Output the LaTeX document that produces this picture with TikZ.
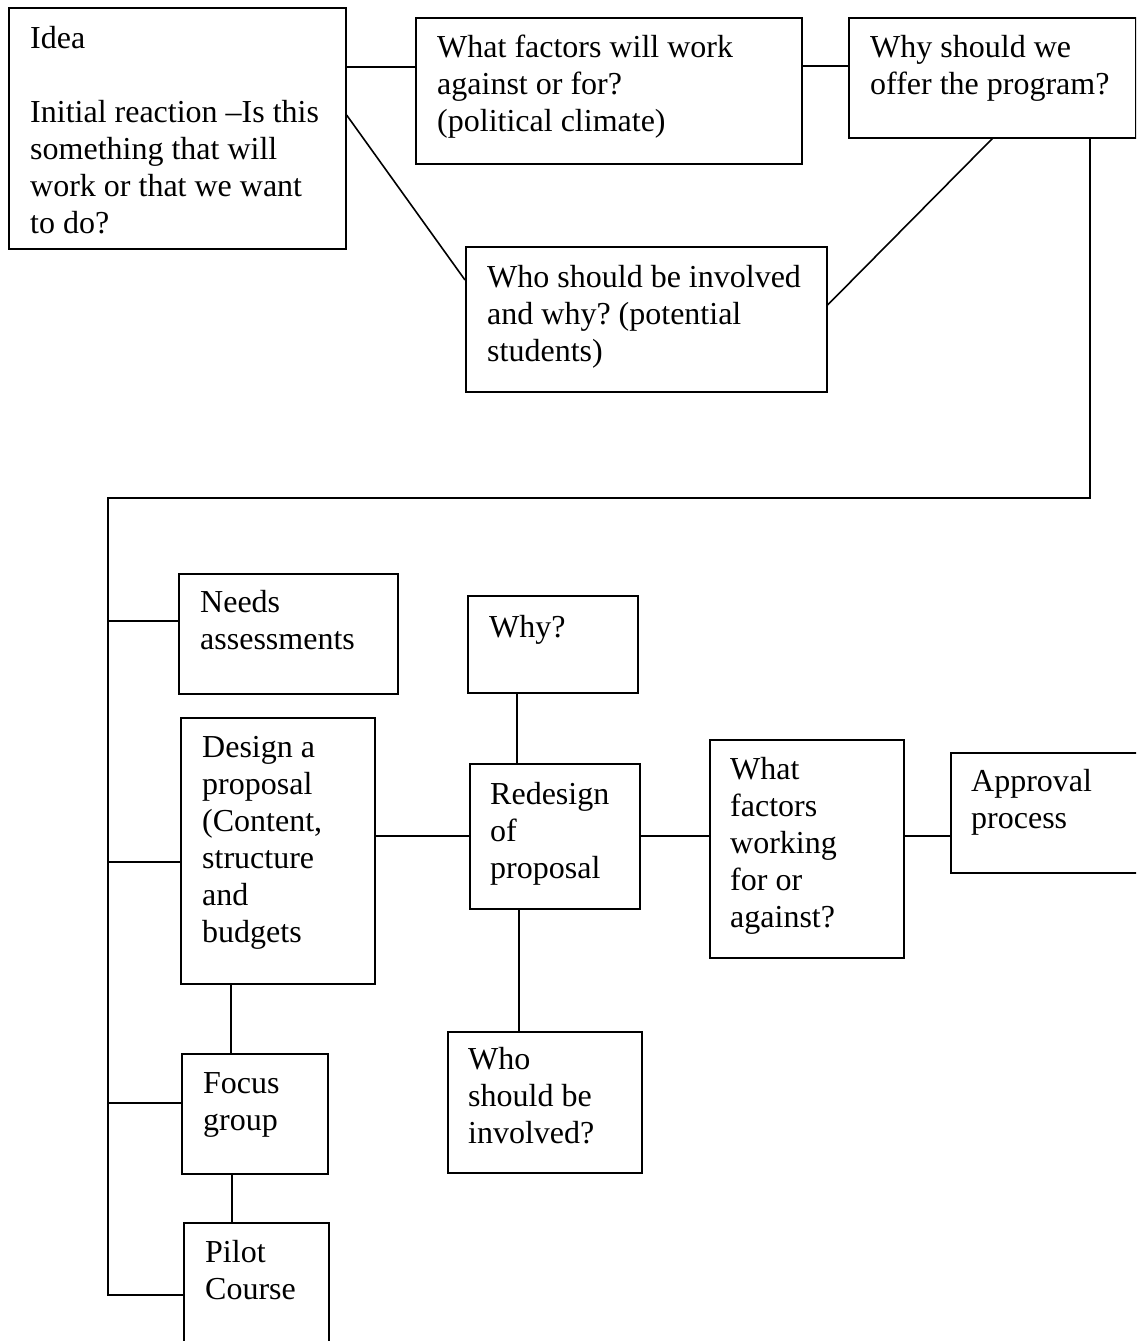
\documentclass[tikz,border=0pt]{standalone}
\usepackage{fontspec}
\setmainfont{Liberation Serif}
\frenchspacing
\begin{document}
\begin{tikzpicture}[x=1pt,y=-1pt,
  box/.style={draw, line width=1.6pt, inner sep=0pt, anchor=north west},
  txt/.style={anchor=base west, inner sep=0pt, align=flush left, text width=420pt,
    font=\fontsize{32}{37}\selectfont\frenchspacing},
  conn/.style={line width=1.6pt}]
\useasboundingbox (0,0) rectangle (1136,1341);
\clip (0,0) rectangle (1136,1341);
% boxes
\node[box, minimum width=337, minimum height=241] (idea) at (8,7) {};
\node[box, minimum width=386, minimum height=146] (wf) at (415,17) {};
\node[box, minimum width=287, minimum height=120] (why) at (848,17) {};
\node[box, minimum width=361, minimum height=145] (who) at (465,246) {};
\node[box, minimum width=219, minimum height=120] (needs) at (178,573) {};
\node[box, minimum width=194, minimum height=266] (design) at (180,717) {};
\node[box, minimum width=170, minimum height=97] (whyq) at (467,595) {};
\node[box, minimum width=170, minimum height=145] (redesign) at (469,763) {};
\node[box, minimum width=194, minimum height=218] (wfw) at (709,739) {};
\node[box, minimum width=200, minimum height=120] (approval) at (950,752) {};
\node[box, minimum width=194, minimum height=141] (who2) at (447,1031) {};
\node[box, minimum width=146, minimum height=120] (focus) at (181,1053) {};
\node[box, minimum width=145, minimum height=140] (pilot) at (183,1222) {};
% texts
\node[txt] (t-idea) at ([shift={(22,41)}]idea.north west) {Idea\\[37pt]Initial reaction –Is this\\something that will\\work or that we want\\to do?};
\node[txt] (t-wf) at ([shift={(22,40)}]wf.north west) {What factors will work\\against or for?\\(political climate)};
\node[txt] (t-why) at ([shift={(22,40)}]why.north west) {Why should we\\offer the program?};
\node[txt] (t-who) at ([shift={(22,41)}]who.north west) {Who should be involved\\and why? (potential\\students)};
\node[txt] (t-needs) at ([shift={(22,39)}]needs.north west) {Needs\\assessments};
\node[txt] (t-design) at ([shift={(22,40)}]design.north west) {Design a\\proposal\\(Content,\\structure\\and\\budgets};
\node[txt] (t-whyq) at ([shift={(22,42)}]whyq.north west) {Why?};
\node[txt] (t-redesign) at ([shift={(21,41)}]redesign.north west) {Redesign\\of\\proposal};
\node[txt] (t-wfw) at ([shift={(21,40)}]wfw.north west) {What\\factors\\working\\for or\\against?};
\node[txt] (t-approval) at ([shift={(21,39)}]approval.north west) {Approval\\process};
\node[txt] (t-who2) at ([shift={(21,38)}]who2.north west) {Who\\should be\\involved?};
\node[txt] (t-focus) at ([shift={(22,40)}]focus.north west) {Focus\\group};
\node[txt] (t-pilot) at ([shift={(22,40)}]pilot.north west) {Pilot\\Course};
% connectors
\draw[conn] (idea.east |- 0,67) -- (wf.west |- 0,67);
\draw[conn] (wf.east |- 0,66) -- (why.west |- 0,66);
\draw[conn] (idea.east |- 0,115) -- (who.west |- 0,280);
\draw[conn] (why.south) -- (who.east |- 0,305);
\coordinate (trA) at (1090,498);
\coordinate (trB) at (108,498);
\coordinate (trC) at (108,1295);
\draw[conn] (why.south -| trA) -- (trA) -- (trB) -- (trC) -- (pilot.west |- trC);
\draw[conn] (trB |- 0,621) -- (needs.west |- 0,621);
\draw[conn] (trB |- 0,862) -- (design.west |- 0,862);
\draw[conn] (trB |- 0,1103) -- (focus.west |- 0,1103);
\draw[conn] (design.east |- 0,836) -- (redesign.west |- 0,836);
\draw[conn] (redesign.east |- 0,836) -- (wfw.west |- 0,836);
\draw[conn] (wfw.east |- 0,836) -- (approval.west |- 0,836);
\draw[conn] (whyq.south -| 517,0) -- (redesign.north -| 517,0);
\draw[conn] (redesign.south -| 519,0) -- (who2.north -| 519,0);
\draw[conn] (design.south -| 231,0) -- (focus.north -| 231,0);
\draw[conn] (focus.south -| 232,0) -- (pilot.north -| 232,0);
\end{tikzpicture}
\end{document}
